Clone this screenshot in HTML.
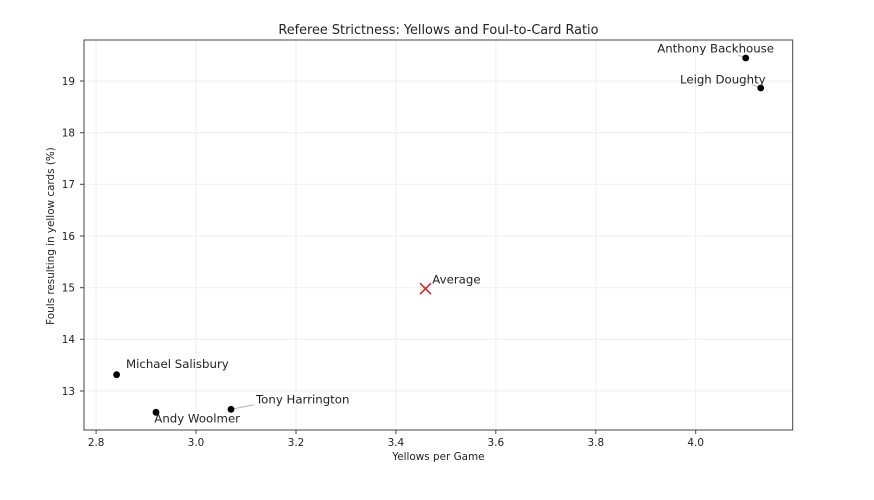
<!DOCTYPE html>
<html><head><meta charset="utf-8"><style>
html,body{margin:0;padding:0;background:#fff;}
svg{display:block;font-family:"DejaVu Sans","Liberation Sans",sans-serif;}
</style></head><body>
<svg width="874" height="500" viewBox="0 0 874 500" xmlns="http://www.w3.org/2000/svg">
<rect width="874" height="500" fill="#fff"/>
<!-- grid -->
<g stroke="#efefef" stroke-width="1">
<line x1="96.1" y1="40" x2="96.1" y2="430"/>
<line x1="196" y1="40" x2="196" y2="430"/>
<line x1="296" y1="40" x2="296" y2="430"/>
<line x1="395.9" y1="40" x2="395.9" y2="430"/>
<line x1="495.8" y1="40" x2="495.8" y2="430"/>
<line x1="595.8" y1="40" x2="595.8" y2="430"/>
<line x1="695.7" y1="40" x2="695.7" y2="430"/>
<line x1="84" y1="391" x2="793" y2="391"/>
<line x1="84" y1="339.3" x2="793" y2="339.3"/>
<line x1="84" y1="287.7" x2="793" y2="287.7"/>
<line x1="84" y1="236" x2="793" y2="236"/>
<line x1="84" y1="184.3" x2="793" y2="184.3"/>
<line x1="84" y1="132.7" x2="793" y2="132.7"/>
<line x1="84" y1="81" x2="793" y2="81"/>
</g>
<!-- spines -->
<rect x="84" y="40" width="708.7" height="390" fill="none" stroke="#444" stroke-width="1"/>
<!-- ticks -->
<g stroke="#444" stroke-width="1">
<line x1="96.1" y1="430" x2="96.1" y2="434"/>
<line x1="196" y1="430" x2="196" y2="434"/>
<line x1="296" y1="430" x2="296" y2="434"/>
<line x1="395.9" y1="430" x2="395.9" y2="434"/>
<line x1="495.8" y1="430" x2="495.8" y2="434"/>
<line x1="595.8" y1="430" x2="595.8" y2="434"/>
<line x1="695.7" y1="430" x2="695.7" y2="434"/>
<line x1="80" y1="391" x2="84" y2="391"/>
<line x1="80" y1="339.3" x2="84" y2="339.3"/>
<line x1="80" y1="287.7" x2="84" y2="287.7"/>
<line x1="80" y1="236" x2="84" y2="236"/>
<line x1="80" y1="184.3" x2="84" y2="184.3"/>
<line x1="80" y1="132.7" x2="84" y2="132.7"/>
<line x1="80" y1="81" x2="84" y2="81"/>
</g>
<g font-size="10.4" fill="#222" text-anchor="middle">
<text x="96.1" y="446">2.8</text>
<text x="196" y="446">3.0</text>
<text x="296" y="446">3.2</text>
<text x="395.9" y="446">3.4</text>
<text x="495.8" y="446">3.6</text>
<text x="595.8" y="446">3.8</text>
<text x="695.7" y="446">4.0</text>
</g>
<g font-size="10.4" fill="#222" text-anchor="end">
<text x="75" y="394.8">13</text>
<text x="75" y="343.1">14</text>
<text x="75" y="291.5">15</text>
<text x="75" y="239.8">16</text>
<text x="75" y="188.1">17</text>
<text x="75" y="136.5">18</text>
<text x="75" y="84.8">19</text>
</g>
<text x="438.4" y="460" font-size="10.4" fill="#222" text-anchor="middle">Yellows per Game</text>
<text transform="translate(54,236) rotate(-90)" font-size="10.4" fill="#222" text-anchor="middle">Fouls resulting in yellow cards (%)</text>
<text x="438.4" y="34" font-size="12.85" fill="#222" text-anchor="middle">Referee Strictness: Yellows and Foul-to-Card Ratio</text>
<!-- connector lines -->
<g stroke="#aaa" stroke-width="0.8">
<line x1="231" y1="409.3" x2="254" y2="404.8"/>
<line x1="738" y1="55" x2="745.7" y2="58"/>
<line x1="752" y1="84.5" x2="760.7" y2="88"/>
</g>
<!-- points -->
<g fill="#000">
<circle cx="116.6" cy="374.7" r="3.4"/>
<circle cx="156" cy="412.3" r="3.4"/>
<circle cx="231" cy="409.3" r="3.4"/>
<circle cx="745.7" cy="58" r="3.4"/>
<circle cx="760.7" cy="88" r="3.4"/>
</g>
<g stroke="#e02020" stroke-width="1.5">
<line x1="420" y1="283.2" x2="431" y2="294.2"/>
<line x1="420" y1="294.2" x2="431" y2="283.2"/>
</g>
<g font-size="11.75" fill="#222">
<text x="126" y="368">Michael Salisbury</text>
<text x="154.3" y="422.3">Andy Woolmer</text>
<text x="256" y="403.3">Tony Harrington</text>
<text x="432.3" y="283.5">Average</text>
<text x="657.2" y="52.7">Anthony Backhouse</text>
<text x="680" y="83.3">Leigh Doughty</text>
</g>
</svg>
</body></html>
